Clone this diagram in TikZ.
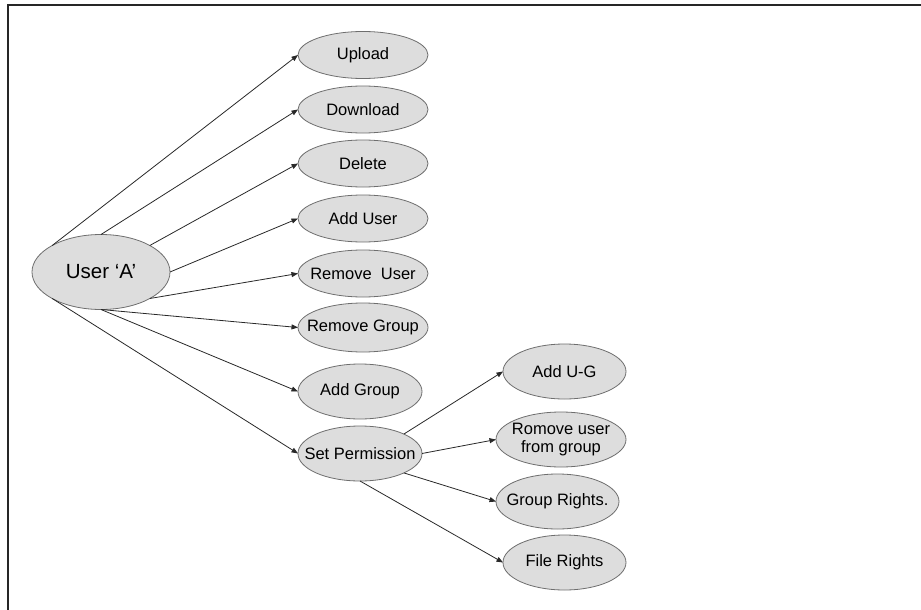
\documentclass[tikz,border=0pt]{standalone}
\usepackage{fontspec}
\setmainfont{Liberation Sans}
\usetikzlibrary{shapes.geometric,arrows.meta}
\definecolor{ellfill}{RGB}{221,221,221}
\definecolor{ellline}{RGB}{110,110,110}
\definecolor{conn}{RGB}{40,40,40}
\tikzset{
  uc/.style={ellipse, draw=ellline, line width=0.8pt, fill=ellfill,
    inner xsep=-30pt, inner ysep=-10pt, outer sep=0pt,
    align=center, font=\fontsize{16.5}{18.5}\selectfont},
  actor/.style={uc, font=\fontsize{20.5}{23}\selectfont},
  conn/.style={draw=conn, line width=0.8pt, -{Triangle[length=6.5pt,width=5pt]}},
  frame/.style={draw=black!85, line width=1.3pt}
}
\begin{document}
\begin{tikzpicture}[x=1pt,y=-1pt]
\useasboundingbox (0,0) rectangle (921,610);
\draw[frame] (921,5) -- (8,5) -- (8,610);

\node[actor, minimum width=138, minimum height=75] (userA) at (101,272) {User `A'};

\node[uc, minimum width=130, minimum height=47] (upload) at (363,55) {Upload};
\node[uc, minimum width=130, minimum height=47] (download) at (363,109.5) {Download};
\node[uc, minimum width=130, minimum height=47] (delete) at (363,163.5) {Delete};
\node[uc, minimum width=130, minimum height=47] (adduser) at (363,218.5) {Add User};
\node[uc, minimum width=130, minimum height=47] (removeuser) at (363,273.5) {Remove~ User};
\node[uc, minimum width=130, minimum height=49] (removegroup) at (363,327.5) {Remove Group};
\node[uc, minimum width=124, minimum height=55] (addgroup) at (360,391.5) {Add Group};
\node[uc, minimum width=124, minimum height=55] (setperm) at (360,453.5) {Set Permission};

\node[uc, minimum width=123, minimum height=55] (addug) at (564.5,371.5) {Add U-G};
\node[uc, minimum width=130, minimum height=55] (rmug) at (561,439.5) {Romove user\\from group};
\node[uc, minimum width=123, minimum height=55] (grights) at (557.5,501.5) {Group Rights.};
\node[uc, minimum width=123, minimum height=55] (frights) at (564.5,562.5) {File Rights};

\draw[conn] ([shift={(-48.8,-26.5)}]userA.center) -- (upload.west);
\draw[conn] (userA.north) -- (download.west);
\draw[conn] ([shift={(48.8,-26.5)}]userA.center) -- (delete.west);
\draw[conn] (userA.east) -- (adduser.west);
\draw[conn] ([shift={(48.8,26.5)}]userA.center) -- (removeuser.west);
\draw[conn] (userA.south) -- (removegroup.west);
\draw[conn] (userA.south) -- (addgroup.west);
\draw[conn] ([shift={(-48.8,26.5)}]userA.center) -- (setperm.west);

\draw[conn] ([shift={(43.8,-19.4)}]setperm.center) -- (addug.west);
\draw[conn] (setperm.east) -- (rmug.west);
\draw[conn] ([shift={(43.8,19.4)}]setperm.center) -- (grights.west);
\draw[conn] (setperm.south) -- (frights.west);
\end{tikzpicture}
\end{document}
